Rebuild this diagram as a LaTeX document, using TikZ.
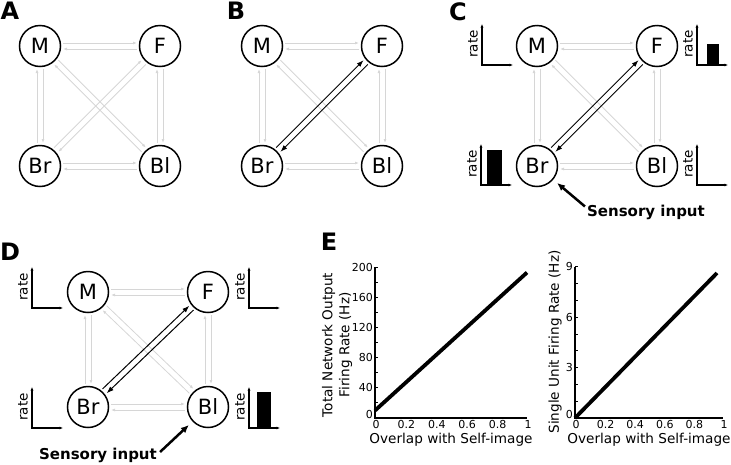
\documentclass[tikz,border=0pt]{standalone}
\usepackage{fontspec}
\setmainfont{DejaVu Sans}
\usetikzlibrary{arrows.meta,calc,positioning}

% four cells of one panel
\newcommand{\network}[4]{%
  \node[cell] (M#3) at (#1,#2) {M};
  \node[cell] (F#3) at (#1+120,#2) {F};
  \node[cell] (Br#3) at (#1,#2+#4) {Br};
  \node[cell] (Bl#3) at (#1+120,#2+#4) {Bl};}
% two opposite connections between two cells
\newcommand{\link}[3]{%
  \draw[#1] ($(#2)!3pt!90:(#3)$) -- ($(#3)!3pt!-90:(#2)$);
  \draw[#1] ($(#3)!3pt!90:(#2)$) -- ($(#2)!3pt!-90:(#3)$);}
% small rate axes, origin at the corner
\newcommand{\rateaxes}[3]{%
  \draw[rateax] (#1,#2-41) -- (#1,#2) -- (#1+31,#2);
  \node[ratelab] (#3) at (#1-9,#2-21) {rate};}

\begin{document}
\begin{tikzpicture}[x=1pt,y=-1pt,
    cell/.style={draw,circle,line width=1.5pt,minimum size=41pt,inner sep=0pt,font=\fontsize{21}{22}\selectfont},
    weak/.style={draw=black!16,line width=0.8pt,-{Latex[length=4pt,width=3pt]},shorten <=23pt,shorten >=23pt},
    strong/.style={draw=black,line width=1pt,-{Latex[length=7pt,width=5pt]},shorten <=23pt,shorten >=23pt},
    panel/.style={font=\fontsize{24}{24}\selectfont\bfseries,inner sep=0pt},
    rateax/.style={line width=1.3pt,{Latex[length=3.5pt,width=3pt]}-{Latex[length=3.5pt,width=3pt]}},
    ratelab/.style={rotate=90,font=\fontsize{13.5}{14}\selectfont,inner sep=0pt},
    sense/.style={font=\fontsize{15}{15}\selectfont\bfseries,inner sep=0pt},
    sensearrow/.style={line width=2.5pt,-{Latex[length=8pt,width=7pt]},shorten >=5pt},
    axis/.style={line width=2pt},
    ticklab/.style={font=\fontsize{11}{12}\selectfont,inner sep=1pt},
    axlab/.style={font=\fontsize{13.6}{17}\selectfont,inner sep=0pt},
    fitline/.style={line width=3.8pt}]
\useasboundingbox (0,0) rectangle (731,464);

\node[panel] (labA) at (10,11) {A};
\node[panel] (labB) at (236,11) {B};
\node[panel] (labC) at (458,12) {C};
\node[panel] (labD) at (10,252) {D};
\node[panel] (labE) at (329,242) {E};

\network{40}{46}{A}{120}
\network{262}{46}{B}{120}
\network{537}{46}{C}{120}
\network{88}{292}{D}{115}

\foreach \p in {A,B,C,D} {
  \link{weak}{M\p}{F\p}
  \link{weak}{Br\p}{Bl\p}
  \link{weak}{M\p}{Br\p}
  \link{weak}{F\p}{Bl\p}
  \link{weak}{M\p}{Bl\p}
}
\link{weak}{FA}{BrA}
\foreach \p in {B,C,D} {
  \link{strong}{F\p}{Br\p}
}

% rate plots
\rateaxes{482}{65}{rateCM}
\rateaxes{697}{65}{rateCF}
\rateaxes{481}{185}{rateCBr}
\rateaxes{697}{185}{rateCBl}
\fill (707,44) rectangle (719,65);
\fill (487,150) rectangle (502,185);
\rateaxes{32}{308}{rateDM}
\rateaxes{249}{308}{rateDF}
\rateaxes{32}{428}{rateDBr}
\rateaxes{249}{428}{rateDBl}
\fill (257,392) rectangle (271,428);

\node[sense] (inC) at (646,212) {Sensory input};
\draw[sensearrow] ([xshift=-2pt,yshift=-2pt]inC.north west) -- (BrC);
\node[sense] (inD) at (98,455) {Sensory input};
\draw[sensearrow] ([xshift=3pt,yshift=3pt]inD.east) -- (BlD);

% E left
\draw[axis] (375,267) -- (375,418) -- (527,418);
\foreach \v in {20,40,...,200} \draw[line width=1pt] (375,418-\v*0.755) -- ++(3,0);
\foreach \v in {40,80,...,200} \node[ticklab,left] (yl\v) at (374,418-\v*0.755) {\v};
\node[ticklab,left] (yl0) at (374,414) {0};
\foreach \l [count=\i from 0] in {0,0.2,0.4,0.6,0.8,1}
  \node[ticklab,below] (xl\i) at (376+\i*30.4,419) {\l};
\draw[fitline] (375,410.5) -- (527,272.5);
\node[axlab,rotate=90,align=center] (ylabL) at (337,345) {Total Network Output\\Firing Rate (Hz)};
\node[axlab] (xlabL) at (451,440) {Overlap with Self-image};

% E right
\draw[axis] (575,267) -- (575,418) -- (723,418);
\foreach \v in {1,...,9} \draw[line width=1pt] (575,418-\v*16.78) -- ++(3,0);
\foreach \v in {3,6,9} \node[ticklab,left] (yr\v) at (574,418-\v*16.78) {\v};
\node[ticklab,left] (yr0) at (574,414) {0};
\foreach \l [count=\i from 0] in {0,0.2,0.4,0.6,0.8,1}
  \node[ticklab,below] (xr\i) at (576+\i*29.6,419) {\l};
\draw[fitline] (575,418) -- (717,273);
\node[axlab,rotate=90] (ylabR) at (555,342) {Single Unit Firing Rate (Hz)};
\node[axlab] (xlabR) at (649,440) {Overlap with Self-image};
\end{tikzpicture}
\end{document}
